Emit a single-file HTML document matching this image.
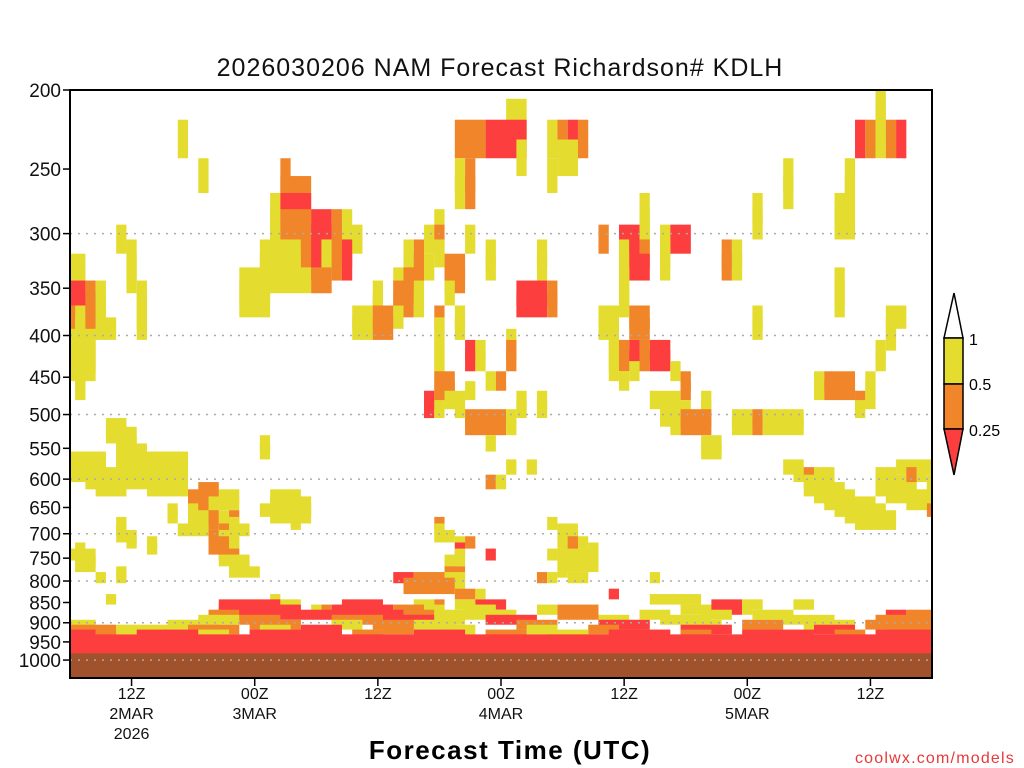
<!DOCTYPE html>
<html><head><meta charset="utf-8"><style>
body{margin:0;background:#fff;}
svg{display:block;font-family:"Liberation Sans",sans-serif;}
</style></head><body>
<svg id="chart" width="1024" height="768" viewBox="0 0 1024 768">
<text x="500" y="76" text-anchor="middle" font-size="25" letter-spacing="1" fill="#111">2026030206 NAM Forecast Richardson# KDLH</text>
<g id="cells"></g>
<g id="grid"></g>
<g id="yaxis"></g>
<g id="xaxis"></g>
<rect x="70" y="90" width="862" height="588" fill="none" stroke="#000" stroke-width="2"/>
<text x="510" y="759" text-anchor="middle" font-size="26" font-weight="bold" letter-spacing="1.5" fill="#000">Forecast Time (UTC)</text>
<text x="1015" y="763" text-anchor="end" font-size="16" letter-spacing="1.2" fill="#e8383a">coolwx.com/models</text>
<g>
<polygon points="944,338 954,293 963,338" fill="#fff" stroke="#000" stroke-width="1.5"/>
<rect x="944" y="338" width="19" height="46" fill="#e5dc30" stroke="#000" stroke-width="1.5"/>
<rect x="944" y="384" width="19" height="45" fill="#f0852a" stroke="#000" stroke-width="1.5"/>
<polygon points="944,429 963,429 954,475" fill="#fd3e3e" stroke="#000" stroke-width="1.5"/>
<text x="969" y="345" font-size="16">1</text>
<text x="969" y="390" font-size="16">0.5</text>
<text x="969" y="436" font-size="16">0.25</text>
</g>
</svg>
<script>
const levels = [200,212.5,225,237.5,250,262.5,275,287.5,300,312.5,325,337.5,350,362.5,375,387.5,400,412.5,425,437.5,450,462.5,475,487.5,500,512.5,525,537.5,550,562.5,575,587.5,600,612.5,625,637.5,650,662.5,675,687.5,700,712.5,725,737.5,750,762.5,775,787.5,800,812.5,825,837.5,850,862.5,875,887.5,900,912.5,925,937.5,950,962.5,975,987.5];
const rowSegments = [
"79Y","43-44Y 79Y",
"11Y 38-40O 41-44R 47Y 48O 49R 50O 77R 78O 79Y 80O 81R",
"44Y 48-49Y",
"13Y 21O 38Y 39O 47Y 70Y 76Y",
"21-23O 38Y 39O 70Y 76Y",
"20Y 21-23R 56Y 67Y 75-76Y",
"20Y 21-23O 24-25R 26O 27Y 36Y 56Y 67Y 75-76Y",
"5Y 20Y 21-23O 24-25R 26O 27-28Y 35Y 36O 39Y 52O 54-55R 56Y 58Y 59-60R",
"6Y 19-22Y 23O 24R 25Y 26O 27R 33Y 34O 36Y 41Y 46Y 54Y 55R 56O 58Y 64O 65Y",
"0-1Y 6Y 19-22Y 23O 24R 25Y 26O 27R 33Y 34O 35Y 37-38O 41Y 46Y 54Y 55-56R 58Y 64O 65Y",
"0-1Y 6Y 17-23Y 24-25O 32Y 33-34O 37-38O 54Y 75Y",
"0-1R 2O 3Y 7Y 17-19Y 30Y 32-33O 34Y 37Y 44-46R 47O 54Y 75Y",
"0-1R 2O 3Y 7Y 17-19Y 30Y 32-33O 34Y 44-46R 47O 54Y 75Y",
"0O 1Y 2O 3Y 7Y 28-29Y 30-31O 32Y 36O 38Y 52-53Y 55-56O 67Y 80-81Y",
"0O 1Y 2O 3-4Y 7Y 28-29Y 30-31O 36Y 38Y 52-53Y 55-56O 67Y 80Y",
"0-2Y 36Y 43Y 53Y 80Y",
"0-2Y 36Y 39R 40Y 43O 53Y 54O 55R 56O 57-58R 79Y",
"0-2Y 36Y 39R 40Y 43O 53Y 54O 55R 56O 57-58R 79Y",
"0-2Y 36Y 53Y 55Y 59Y",
"1Y 36-37O 41Y 42O 54Y 60O 73Y 74-76O 78Y",
"1Y 36-37O 39Y 60O 73Y 74-76O 78Y",
"35R 36O 37-38Y 44Y 46Y 57-59Y 62Y 77O 78Y",
"35R 36Y 38Y 44Y 46Y 58-60Y 62Y 77Y",
"39-42O 43Y 58-59Y 60-62O 65-66Y 67O 68-71Y",
"4-5Y 39-42O 43Y 59Y 60-62O 65-66Y 67O 68-71Y",
"4-6Y",
"5-6Y 19Y 41Y 62-63Y",
"5-7Y 19Y 62-63Y",
"0-3Y 5-11Y",
"0-3Y 5-11Y 43Y 45Y 70-71Y 81-84Y",
"0-11Y 71Y 72O 73-74Y 79-80Y 82O 83Y",
"2-11Y 41O 42Y 72-74Y 79-81Y 82O 84Y",
"3-5Y 8-11Y 13-14O 72-75Y 79-82Y 84Y",
"12-14O 15-16Y 20-22Y 73-76Y 80-84Y",
"12-13O 14Y 15-16Y 20-23Y 74-78Y 82-84Y",
"10Y 12Y 13O 14Y 19-23Y 75-79Y 84O",
"10Y 12-13Y 14O 15Y 16O 20-23Y 76-80Y",
"5Y 12-13Y 14O 15-16Y 22Y 36O 47Y 77-80Y",
"5Y 11-13Y 15O 16-17Y 36Y 48-49Y",
"5-6Y 14O 15-16Y 36-37Y 48-49Y",
"6Y 8Y 14-15O 16Y 38Y 39O 48Y 49O 50Y",
"1Y 8Y 14-15O 16Y 38R 49O 51Y",
"0-2Y 15-16O 38Y 41R 47Y 48-51Y",
"1-2Y 15-17Y 37-38Y 48-51Y",
"1-2Y 16-17Y 37Y 48-51Y",
"5Y 16-18Y 37-38O 48Y",
"3Y 5Y 32-33R 34-36O 37-38Y 46O 47Y 49-50Y 57Y",
"33-37O 38Y",
"33-37O 38Y",
"38-39O 40Y 53R",
"4Y 20Y 57-61Y",
"15-20R 21-22Y 27-30R 34-35Y 36O 38-39Y 40-42R 63-65R 66-67Y 71-72Y",
"15-22R 24Y 25O 26-31R 32-34O 35-36Y 39-41Y 46-47Y 48-51O 60-62Y 63-65R 66Y",
"14-16O 17-32R 33-35O 36-43Y 48-51O 56-58Y 62-64Y 67-70Y 80-81R 82-84O",
"13-16Y 17-20O 26-30O 31-35R 36-38Y 41-45R 52-54Y 58-62Y 70-74Y 79-84O",
"0-2Y 10-14Y 18-22O 26-28Y 30-33O 34-37Y 44-47O 52-56R 60-63Y 66-69O 72-76Y 78-84O",
"0-4O 5-9Y 12-16O 19-21Y 23-26R 31-33O 37-39Y 45-47Y 51-53O 60-64R 73-76R 80-84O",
"0-2R 3-4O 7-12R 13-15Y 18-26R 28-30O 34-38R 41-44O 47-50Y 53-58R 60-62O 66-72R 75-77O 79-84R",
"0-84R","0-84R","0-84R","0-84R","0-84R"
];
const surfacePressure = 981;
const yTickLabels = [200,250,300,350,400,450,500,550,600,650,700,750,800,850,900,950,1000];
const gridLevels = [300,400,500,600,700,800,900,1000];
const xTickHours = [6,18,30,42,54,66,78];
const xTickTop = ["12Z","00Z","12Z","00Z","12Z","00Z","12Z"];
const xTickMid = ["2MAR","3MAR","","4MAR","","5MAR",""];
const xTickBot = ["2026","","","","","",""];
const colors = {Y:"#e5dc30",O:"#f0852a",R:"#fd3e3e"};

const NS="http://www.w3.org/2000/svg";
const X0=70,X1=932,Y0=90,Y1=678,NH=84;
const yScale=p=>Y0+354.2*Math.log(p/200);
const xScale=h=>X0+h*(X1-X0)/NH;
function mk(tag,attrs,parent){const e=document.createElementNS(NS,tag);for(const k in attrs)e.setAttribute(k,attrs[k]);parent.appendChild(e);return e;}

const cells=document.getElementById('cells');
levels.forEach((p,i)=>{
  const yt=Math.max(Y0,yScale(p-7.5)), yb=Math.min(Y1,yScale(p+17.5));
  (rowSegments[i]||"").split(/\s+/).filter(Boolean).forEach(seg=>{
    const m=seg.match(/^(\d+)(?:-(\d+))?([YOR])$/); if(!m)return;
    const a=+m[1], b=m[2]?+m[2]:a;
    const xl=Math.max(X0,xScale(a-0.5)), xr=Math.min(X1,xScale(b+0.5));
    const r=mk('rect',{x:xl,y:yt,width:xr-xl,height:yb-yt,fill:colors[m[3]]},cells);
    
    
  });
});
const g=mk('rect',{x:X0,y:yScale(surfacePressure),width:X1-X0,height:Y1-yScale(surfacePressure),fill:"#a0522d"},cells);



const grid=document.getElementById('grid');
gridLevels.forEach(p=>{
  const l=mk('line',{x1:X0,x2:X1,y1:yScale(p),y2:yScale(p),stroke:"#aaa","stroke-width":1.5,"stroke-dasharray":"2,6"},grid);
  
  
});
const ya=document.getElementById('yaxis');
yTickLabels.forEach(p=>{
  const y=yScale(p);
  const t=mk('line',{x1:X0-7,x2:X0,y1:y,y2:y,stroke:"#000","stroke-width":1.5},ya);
  
  
  const tx=mk('text',{x:X0-9,y:y+7,"text-anchor":"end","font-size":19,fill:"#111"},ya);
  tx.textContent=p;
  
  
});
const xa=document.getElementById('xaxis');
xTickHours.forEach((h,i)=>{
  const x=xScale(h);
  const t=mk('line',{x1:x,x2:x,y1:Y1,y2:Y1+8,stroke:"#000","stroke-width":1.5},xa);
  
  
  [[xTickTop[i],699],[xTickMid[i],719],[xTickBot[i],739]].forEach(([s,y])=>{
    if(!s)return;
    const tx=mk('text',{x:x,y:y,"text-anchor":"middle","font-size":16,fill:"#111"},xa);
    tx.textContent=s;
    
    
  });
});
</script>
</body></html>
